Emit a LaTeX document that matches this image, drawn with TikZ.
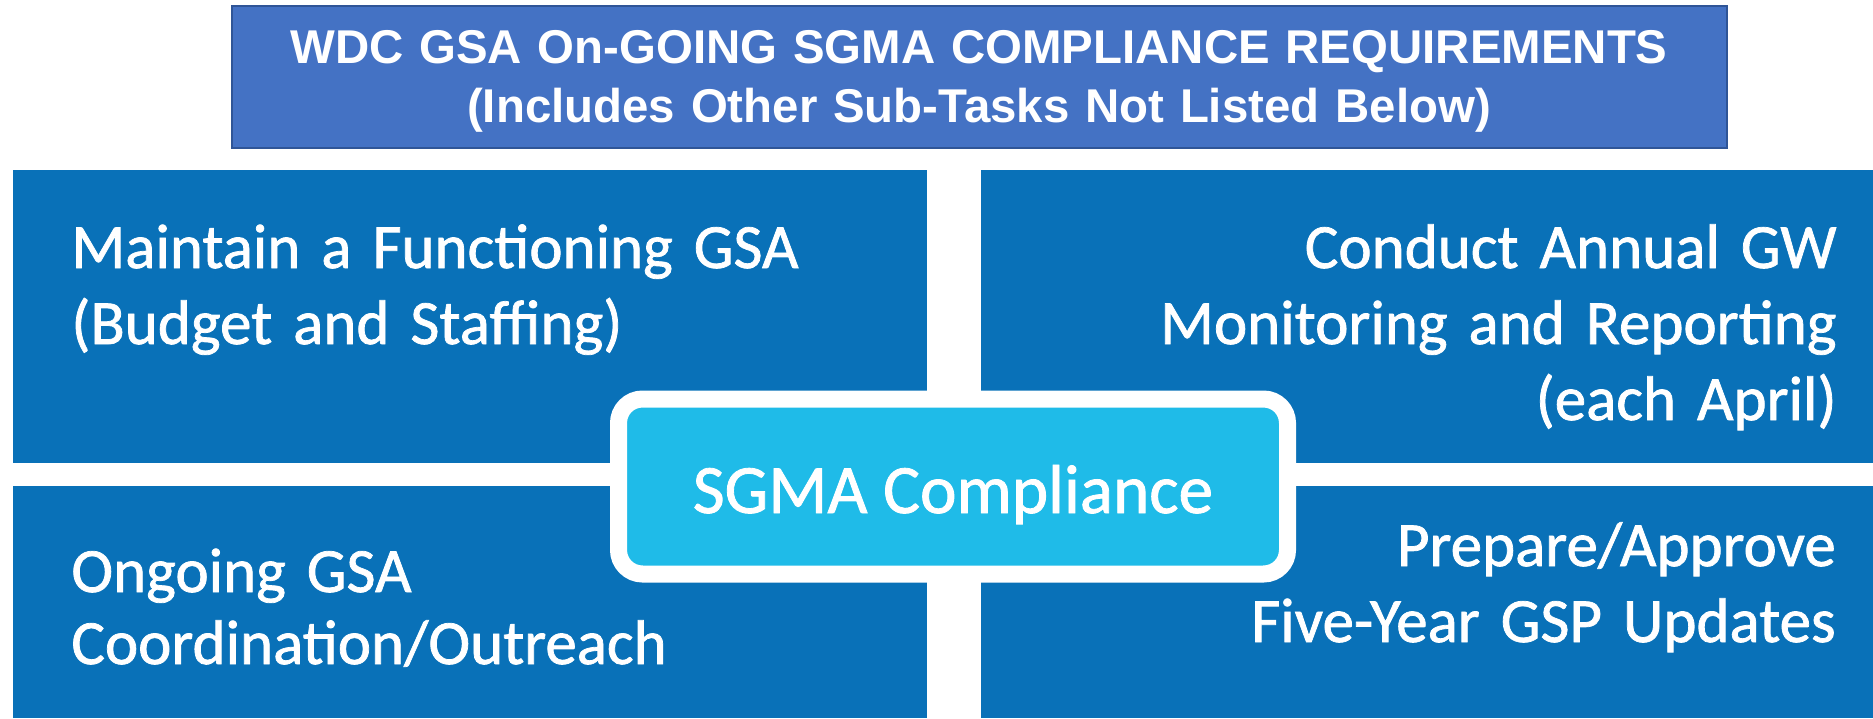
\documentclass[tikz,border=0pt]{standalone}
\usepackage{fontspec}
\setmainfont{Carlito}[FakeBold=1.2]
\newfontfamily\arialfont{Liberation Sans}
\newfontfamily\calfont{Carlito}[FakeBold=1.2]
\definecolor{quadblue}{HTML}{0971B8}
\definecolor{titleblue}{HTML}{4472C4}
\definecolor{titleedge}{HTML}{2F5597}
\definecolor{centercyan}{HTML}{1FBBE8}
\begin{document}
\begin{tikzpicture}[x=0.5pt,y=-0.5pt,
  quad/.style={fill=quadblue, draw=none, anchor=north west, inner sep=0pt},
  quadtext/.style={text=white, inner sep=0pt, text width=440pt,
    font=\calfont\fontsize{31.5}{38}\selectfont},
  titlebox/.style={fill=titleblue, draw=titleedge, line width=1pt, anchor=north west, inner sep=0pt},
  titletext/.style={text=white, inner sep=0pt, text width=740pt, align=center,
    font=\arialfont\bfseries\fontsize{23.7}{29.5}\selectfont},
  centerbox/.style={fill=centercyan, draw=white, line width=8.5pt, rounded corners=12pt,
    minimum width=334.5pt, minimum height=87.5pt, inner sep=0pt}
]
\useasboundingbox (0,0) rectangle (1873,718);
\fill[white] (0,0) rectangle (1873,718);
% title
\node[titlebox, minimum width=747.5pt, minimum height=71pt] (title) at (231,5) {};
\node[titletext, anchor=base] (titletxt) at (979,63)
  {WDC GSA On-GOING SGMA COMPLIANCE REQUIREMENTS\\(Includes Other Sub-Tasks Not Listed Below)};
% quadrants
\node[quad, minimum width=457pt, minimum height=146.5pt] (tl) at (13,170) {};
\node[quad, minimum width=446pt, minimum height=146.5pt] (tr) at (981,170) {};
\node[quad, minimum width=457pt, minimum height=116pt] (bl) at (13,486) {};
\node[quad, minimum width=446pt, minimum height=116pt] (br) at (981,486) {};
% quadrant texts
\node[quadtext, align=left, anchor=base west] (tltxt) at (71,268)
  {Maintain a Functioning GSA\\(Budget and Staffing)};
\node[quadtext, align=right, anchor=base east] (trtxt) at (1837,268)
  {Conduct Annual GW\hspace*{5pt}\\Monitoring and Reporting\\(each April)};
\node[quadtext, align=left, anchor=base west, font=\calfont\fontsize{31.5}{36}\selectfont] (bltxt) at (71,592)
  {Ongoing GSA\\Coordination/Outreach};
\node[quadtext, align=right, anchor=base east] (brtxt) at (1836,566)
  {Prepare/Approve\\Five-Year GSP Updates};
% center
\node[centerbox] (center) at (953,486.5) {};
\node[text=white, inner sep=0pt, anchor=base, font=\calfont\fontsize{34.6}{40}\selectfont] (centertxt) at (953,513) {SGMA Compliance};
\end{tikzpicture}
\end{document}
